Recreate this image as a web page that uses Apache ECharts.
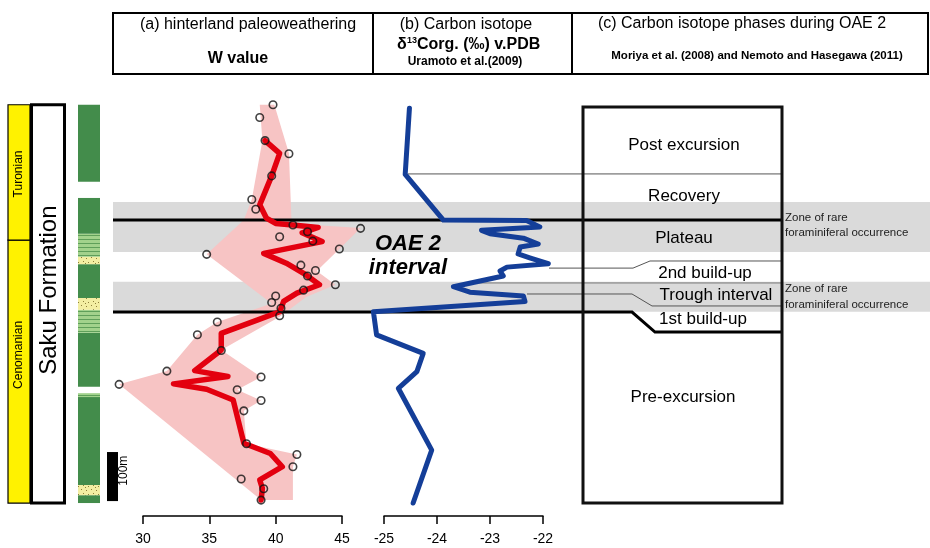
<!DOCTYPE html>
<html><head><meta charset="utf-8">
<script src="https://cdn.jsdelivr.net/npm/echarts@6/dist/echarts.min.js"></script>
<style>html,body{margin:0;padding:0;background:#fff}#c{width:930px;height:548px}</style>
</head><body><div id="c"></div>
<script>
// ---------------- DATA (stratigraphic height in metres) ----------------
const wTicks = [30, 35, 40, 45];
const cTicks = [-25, -24, -23, -22];

// (a) W value samples
const wSampleHeight = [816,790,743,716,671,623,603,571,564,557,547,538,522,511,489,478,467,449,438,426,413,401,386,373,347,315,273,261,246,235,213,192,125,103,78,53,33,10];
const wSampleValue  = [39.8,38.8,39.2,41.0,39.7,38.2,38.5,41.3,46.4,42.4,40.3,42.8,44.8,34.8,41.9,43.0,42.4,44.5,42.1,40.0,39.7,40.4,40.3,35.6,34.1,35.9,31.8,38.9,28.2,37.1,38.9,37.6,37.8,41.6,41.3,37.4,39.1,38.9];

// (a) W running mean (red line)
const wMeanHeight = [743,717,671,612,585,574,571,566,555,537,513,493,469,449,432,415,394,377,350,316,274,262,247,236,214,126,105,78,51,34,10];
const wMeanValue  = [39.2,40.3,39.7,38.8,39.3,40.0,41.3,43.2,42.0,43.5,39.1,40.8,42.3,43.3,41.6,40.6,40.3,38.6,35.9,35.9,33.9,36.4,32.3,34.8,36.8,37.6,39.6,40.5,38.8,39.0,38.9];

// (a) W range envelope (pink polygon outline)
const wEnvHeight = [816,717,574,565,522,477,449,424,384,316,261,235,213,192,125,103,78,10,10,246,273,347,373,411,511,581,623,743,816];
const wEnvValue  = [39.9,41.0,41.2,46.4,44.8,43.1,44.5,42.3,40.3,35.9,38.9,37.1,38.9,37.6,37.8,41.6,41.3,41.3,38.9,28.2,31.8,34.1,35.6,39.7,34.8,37.6,38.2,39.0,38.8];

// (b) d13C org
const cHeight = [809,674,581,580,567,560,553,544,532,526,512,504,492,485,477,467,445,434,426,415,394,347,309,272,238,112,4];
const cValue  = [-24.52,-24.60,-23.88,-22.31,-22.06,-23.16,-23.00,-22.37,-22.09,-22.43,-22.47,-22.25,-21.90,-22.68,-22.81,-22.75,-23.69,-23.38,-22.37,-22.34,-25.20,-25.14,-24.26,-24.38,-24.73,-24.10,-24.45];

// zones of rare foraminiferal occurrence (grey bands)
const bandBottom = [516, 394];
const bandTop    = [618, 455];

// lithology column
const lithoBottom = [4,20,41,220,241,351,398,422,491,506,553,659];
const lithoTop    = [20,41,220,228,351,398,422,491,506,553,626,816];
const lithoType   = ['mud','sand','mud','silt','mud','silt','sand','mud','sand','silt','mud','mud'];

// stages
const stageNames  = ['Cenomanian','Turonian'];
const stageBottom = [4, 540];
const stageTop    = [540, 816];
const stageLabelHeight = [306, 675];

// formation
const formationName = 'Saku Formation';
const formationRange = [4, 816];

// (c) carbon isotope phases
const phaseNames = ['Post excursion','Recovery','Plateau','2nd build-up','Trough interval','1st build-up','Pre-excursion'];
const phaseLabelHeight = [734, 630, 544, 473, 428, 379, 220];
const phaseBoxRange = [4, 811.5];

const scaleBar = [8, 108];

// ---------------- LAYOUT ----------------
const FONT = '"Liberation Sans", Arial, Helvetica, sans-serif';
const TOP = 93, H = 412, HMAX = 840;
const L = {
  bandX0: 113, bandX1: 930,
  stageX0: 8, stageX1: 30,
  formX0: 31.5, formX1: 64.5,
  lithoX0: 78, lithoX1: 100,
  barX0: 107, barX1: 118,
  boxX0: 583, boxX1: 782,
  phaseLabelX: [684, 684, 684, 705, 716, 703, 683]
};
// connector lines between curves and phase box: [x, height] polylines
const connectors = [
  {w: 1, c: '#555', pts: [[408, 675], [782, 675]]},
  {w: 3, c: '#000', pts: [[113, 581], [782, 581]]},
  {w: 1, c: '#555', pts: [[549, 483], [633, 483], [650, 497.5], [782, 497.5]]},
  {w: 1, c: '#777', pts: [[478, 452.7], [782, 452.7]]},
  {w: 1, c: '#555', pts: [[527, 430.2], [632, 430.2], [652, 405.8], [782, 405.8]]},
  {w: 3, c: '#000', pts: [[113, 393.5], [632, 393.5], [655, 352.7], [782, 352.7]]}
];

// patterns
function makeSand() {
  const c = document.createElement('canvas'); c.width = 10; c.height = 8;
  const g = c.getContext('2d');
  g.fillStyle = '#f3eea2'; g.fillRect(0, 0, 10, 8);
  g.fillStyle = '#8d7f3a';
  [[1,1],[6,2],[3,5],[8,6],[5,7]].forEach(p => g.fillRect(p[0], p[1], 1, 1));
  return c;
}
function makeSilt() {
  const c = document.createElement('canvas'); c.width = 8; c.height = 4;
  const g = c.getContext('2d');
  g.fillStyle = '#a2d28c'; g.fillRect(0, 0, 8, 4);
  g.fillStyle = '#5f9f5a'; g.fillRect(0, 3, 8, 1);
  return c;
}
const sandPat = {image: makeSand(), repeat: 'repeat'};
const siltPat = {image: makeSilt(), repeat: 'repeat'};
const lithoFill = {mud: '#438c4b', sand: sandPat, silt: siltPat};

const chart = echarts.init(document.getElementById('c'));

function rectFrom(api, x0, top, x1, bot) {
  const a = api.coord([x0, top]), b = api.coord([x1, bot]);
  return {x: a[0], y: a[1], width: b[0] - a[0], height: b[1] - a[1]};
}

const series = [];

// grey bands
series.push({
  type: 'custom', xAxisIndex: 2, yAxisIndex: 2, z: 1, silent: true,
  data: bandBottom.map((b, i) => [b, bandTop[i]]),
  renderItem: (p, api) => ({type: 'rect', shape: rectFrom(api, L.bandX0, api.value(1), L.bandX1, api.value(0)), style: {fill: '#dadada'}})
});

// pink envelope
series.push({
  type: 'custom', xAxisIndex: 0, yAxisIndex: 0, z: 2, silent: true,
  data: [[38, 400]],
  renderItem: (p, api) => ({type: 'polygon', shape: {points: wEnvValue.map((v, i) => api.coord([v, wEnvHeight[i]]))}, style: {fill: '#f7c4c4'}})
});

// connector lines
series.push({
  type: 'custom', xAxisIndex: 2, yAxisIndex: 2, z: 3, silent: true,
  data: connectors.map((c, i) => [i, 0]),
  renderItem: (p, api) => {
    const c = connectors[p.dataIndex];
    return {type: 'polyline', shape: {points: c.pts.map(q => api.coord(q))}, style: {stroke: c.c, lineWidth: c.w, fill: null}};
  }
});

// red running mean
series.push({
  type: 'line', xAxisIndex: 0, yAxisIndex: 0, z: 4, silent: true, clip: false,
  data: wMeanValue.map((v, i) => [v, wMeanHeight[i]]),
  symbol: 'none', lineStyle: {color: '#e3000f', width: 5.5, join: 'round', cap: 'round'}
});

// sample circles
series.push({
  type: 'scatter', xAxisIndex: 0, yAxisIndex: 0, z: 5, silent: true, clip: false,
  data: wSampleValue.map((v, i) => [v, wSampleHeight[i]]),
  symbol: 'circle', symbolSize: 7.5,
  itemStyle: {color: 'rgba(0,0,0,0)', borderColor: '#111', borderWidth: 1.6}
});

// blue carbon isotope curve (custom polyline so points left of -25 are kept)
series.push({
  type: 'custom', xAxisIndex: 1, yAxisIndex: 1, z: 4, silent: true,
  data: [[-24, 400]],
  renderItem: (p, api) => ({type: 'polyline',
    shape: {points: cValue.map((v, i) => api.coord([v, cHeight[i]]))},
    style: {stroke: '#143e98', lineWidth: 5, fill: null, lineJoin: 'round', lineCap: 'round'}})
});

// lithology column
series.push({
  type: 'custom', xAxisIndex: 2, yAxisIndex: 2, z: 2, silent: true,
  data: lithoBottom.map((b, i) => [b, lithoTop[i]]),
  renderItem: (p, api) => ({type: 'rect', shape: rectFrom(api, L.lithoX0, api.value(1), L.lithoX1, api.value(0)),
    style: {fill: lithoFill[lithoType[p.dataIndex]]}})
});

// stage column
series.push({
  type: 'custom', xAxisIndex: 2, yAxisIndex: 2, z: 2, silent: true,
  data: stageBottom.map((b, i) => [b, stageTop[i]]),
  renderItem: (p, api) => {
    const r = rectFrom(api, L.stageX0, api.value(1), L.stageX1, api.value(0));
    const c = api.coord([(L.stageX0 + L.stageX1) / 2, stageLabelHeight[p.dataIndex]]);
    return {type: 'group', children: [
      {type: 'rect', shape: r, style: {fill: '#fff200', stroke: '#000', lineWidth: 1.2}},
      {type: 'text', x: c[0], y: c[1], rotation: Math.PI / 2,
        style: {text: stageNames[p.dataIndex], font: '12px ' + FONT, fill: '#000', align: 'center', verticalAlign: 'middle'}}
    ]};
  }
});

// formation box
series.push({
  type: 'custom', xAxisIndex: 2, yAxisIndex: 2, z: 2, silent: true,
  data: [formationRange],
  renderItem: (p, api) => {
    const r = rectFrom(api, L.formX0, api.value(1), L.formX1, api.value(0));
    const c = api.coord([(L.formX0 + L.formX1) / 2 + 1, 438]);
    return {type: 'group', children: [
      {type: 'rect', shape: r, style: {fill: '#fff', stroke: '#000', lineWidth: 3}},
      {type: 'text', x: c[0], y: c[1], rotation: Math.PI / 2,
        style: {text: formationName, font: '24px ' + FONT, fill: '#000', align: 'center', verticalAlign: 'middle'}}
    ]};
  }
});

// scale bar
series.push({
  type: 'custom', xAxisIndex: 2, yAxisIndex: 2, z: 3, silent: true,
  data: [scaleBar],
  renderItem: (p, api) => {
    const r = rectFrom(api, L.barX0, api.value(1), L.barX1, api.value(0));
    const c = api.coord([L.barX1 + 6, (api.value(0) + api.value(1)) / 2 + 12]);
    return {type: 'group', children: [
      {type: 'rect', shape: r, style: {fill: '#000'}},
      {type: 'text', x: c[0], y: c[1], rotation: Math.PI / 2,
        style: {text: '100m', font: '12px ' + FONT, fill: '#000', align: 'center', verticalAlign: 'middle'}}
    ]};
  }
});

// phase box + labels
series.push({
  type: 'custom', xAxisIndex: 2, yAxisIndex: 2, z: 6, silent: true,
  data: [phaseBoxRange],
  renderItem: (p, api) => {
    const r = rectFrom(api, L.boxX0, api.value(1), L.boxX1, api.value(0));
    const kids = [{type: 'rect', shape: r, style: {fill: null, stroke: '#111', lineWidth: 3}}];
    phaseNames.forEach((n, i) => {
      const c = api.coord([L.phaseLabelX[i], phaseLabelHeight[i]]);
      kids.push({type: 'text', x: c[0], y: c[1], style: {text: n, font: '17px ' + FONT, fill: '#000', align: 'center', verticalAlign: 'middle'}});
    });
    return {type: 'group', children: kids};
  }
});

// zone annotations and OAE 2 text
const notes = [
  {t: 'Zone of rare', x: 785, h: 585, f: '11.5px ' + FONT, a: 'left', c: '#222'},
  {t: 'foraminiferal occurrence', x: 785, h: 555, f: '11.5px ' + FONT, a: 'left', c: '#222'},
  {t: 'Zone of rare', x: 785, h: 440, f: '11.5px ' + FONT, a: 'left', c: '#222'},
  {t: 'foraminiferal occurrence', x: 785, h: 408, f: '11.5px ' + FONT, a: 'left', c: '#222'},
  {t: 'OAE 2', x: 408, h: 532, f: 'italic bold 22px ' + FONT, a: 'center', c: '#000'},
  {t: 'interval', x: 408, h: 483, f: 'italic bold 22px ' + FONT, a: 'center', c: '#000'}
];
series.push({
  type: 'custom', xAxisIndex: 2, yAxisIndex: 2, z: 7, silent: true,
  data: notes.map((n, i) => [n.x, n.h]),
  renderItem: (p, api) => {
    const n = notes[p.dataIndex];
    const c = api.coord([n.x, n.h]);
    return {type: 'text', x: c[0], y: c[1], style: {text: n.t, font: n.f, fill: n.c, align: n.a, verticalAlign: 'middle'}};
  }
});

const axisCommon = {
  type: 'value', position: 'bottom', offset: 11,
  axisLine: {show: true, onZero: false, lineStyle: {color: '#000', width: 1.5}},
  axisTick: {show: true, inside: false, length: 8, lineStyle: {color: '#000', width: 1.5}},
  axisLabel: {color: '#000', fontSize: 14, fontFamily: FONT, margin: 16},
  splitLine: {show: false}
};

const hdrFont = '16px ' + FONT;
const option = {
  animation: false,
  backgroundColor: '#fff',
  grid: [
    {left: 143, width: 199, top: TOP, height: H},
    {left: 384, width: 159, top: TOP, height: H},
    {left: 0, width: 930, top: TOP, height: H}
  ],
  xAxis: [
    Object.assign({}, axisCommon, {gridIndex: 0, min: wTicks[0], max: wTicks[wTicks.length - 1], interval: wTicks[1] - wTicks[0]}),
    Object.assign({}, axisCommon, {gridIndex: 1, min: cTicks[0], max: cTicks[cTicks.length - 1], interval: cTicks[1] - cTicks[0]}),
    {gridIndex: 2, type: 'value', min: 0, max: 930, show: false}
  ],
  yAxis: [0, 1, 2].map(i => ({gridIndex: i, type: 'value', min: 0, max: HMAX, show: false})),
  series: series,
  graphic: [
    {type: 'rect', shape: {x: 113, y: 13, width: 260, height: 61}, style: {fill: null, stroke: '#000', lineWidth: 2}},
    {type: 'rect', shape: {x: 373, y: 13, width: 199, height: 61}, style: {fill: null, stroke: '#000', lineWidth: 2}},
    {type: 'rect', shape: {x: 572, y: 13, width: 356, height: 61}, style: {fill: null, stroke: '#000', lineWidth: 2}},
    {type: 'text', x: 248, y: 25, style: {text: '(a) hinterland paleoweathering', font: hdrFont, fill: '#000', align: 'center', verticalAlign: 'middle'}},
    {type: 'text', x: 238, y: 59, style: {text: 'W value', font: 'bold 16px ' + FONT, fill: '#000', align: 'center', verticalAlign: 'middle'}},
    {type: 'text', x: 466, y: 25, style: {text: '(b) Carbon isotope', font: hdrFont, fill: '#000', align: 'center', verticalAlign: 'middle'}},
    {type: 'text', x: 397, y: 45, style: {text: 'δ', font: 'bold 16px ' + FONT, fill: '#000', align: 'left', verticalAlign: 'middle'}},
    {type: 'text', x: 407, y: 41, style: {text: '13', font: 'bold 9px ' + FONT, fill: '#000', align: 'left', verticalAlign: 'middle'}},
    {type: 'text', x: 417, y: 45, style: {text: 'Corg. (‰) v.PDB', font: 'bold 16px ' + FONT, fill: '#000', align: 'left', verticalAlign: 'middle'}},
    {type: 'text', x: 465, y: 62, style: {text: 'Uramoto et al.(2009)', font: 'bold 12px ' + FONT, fill: '#000', align: 'center', verticalAlign: 'middle'}},
    {type: 'text', x: 742, y: 24, style: {text: '(c) Carbon isotope phases during OAE 2', font: hdrFont, fill: '#000', align: 'center', verticalAlign: 'middle'}},
    {type: 'text', x: 757, y: 56, style: {text: 'Moriya et al. (2008) and Nemoto and Hasegawa (2011)', font: 'bold 11.5px ' + FONT, fill: '#000', align: 'center', verticalAlign: 'middle'}}
  ]
};
chart.setOption(option);
</script>
</body></html>
